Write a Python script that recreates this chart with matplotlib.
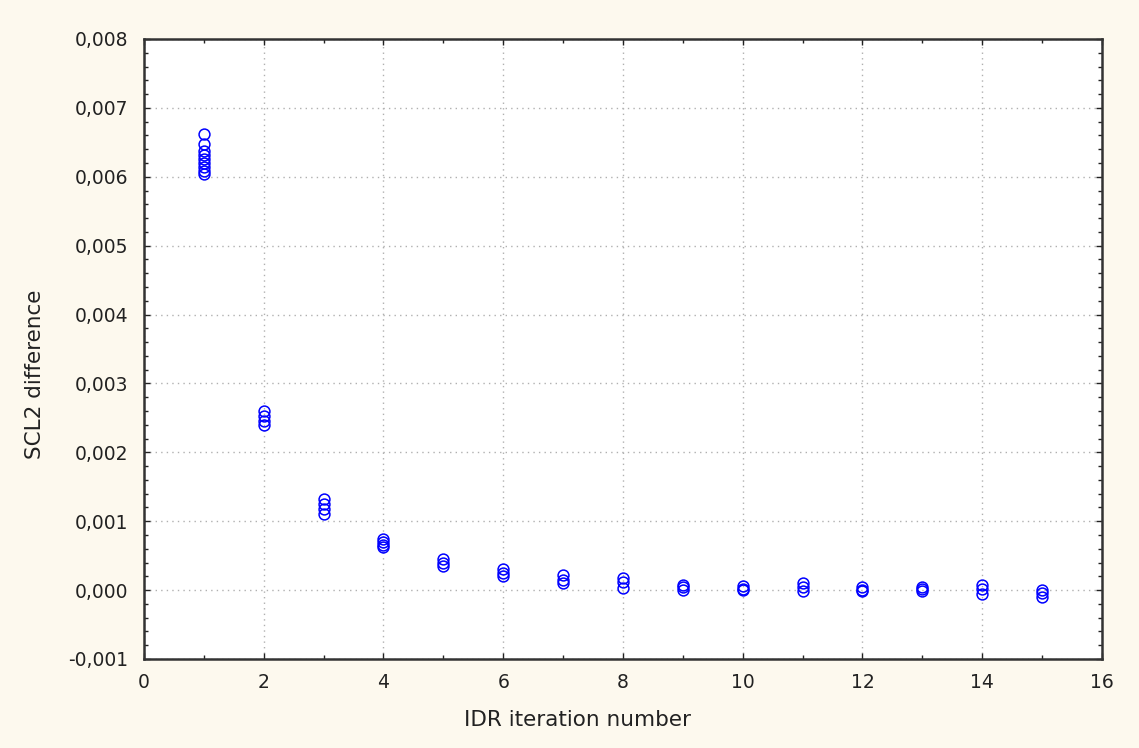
import matplotlib
matplotlib.use("Agg")
import matplotlib.pyplot as plt
from matplotlib.ticker import FuncFormatter, MultipleLocator

iterations = [1, 2, 3, 4, 5, 6, 7, 8, 9, 10, 11, 12, 13, 14, 15]
differences = [
    [0.00662, 0.00648, 0.00638, 0.00632, 0.00626, 0.00620, 0.00614, 0.00608, 0.00604],
    [0.00260, 0.00252, 0.00245, 0.00240],
    [0.00132, 0.00125, 0.00118, 0.00110],
    [0.00074, 0.00070, 0.00066, 0.00062],
    [0.00045, 0.00040, 0.00035],
    [0.00030, 0.00025, 0.00020],
    [0.00022, 0.00015, 0.00010],
    [0.00018, 0.00012, 0.00003],
    [0.00008, 0.00004, 0.00000],
    [0.00006, 0.00002, 0.00000],
    [0.00010, 0.00005, -0.00002],
    [0.00004, 0.00000, -0.00002],
    [0.00004, 0.00001, -0.00001],
    [0.00007, 0.00002, -0.00006],
    [0.00000, -0.00004, -0.00010],
]
x_ticks = [0, 2, 4, 6, 8, 10, 12, 14, 16]
y_ticks = [-0.001, 0.000, 0.001, 0.002, 0.003, 0.004, 0.005, 0.006, 0.007, 0.008]

plt.rcParams['font.family'] = ['DejaVu Sans']

fig = plt.figure(figsize=(11.39, 7.48), dpi=100, facecolor='#FDF9EE')
ax = fig.add_axes([0.1264, 0.119, 0.8411, 0.8289])
ax.set_facecolor('white')

for it, vals in zip(iterations, differences):
    ax.plot([it] * len(vals), vals, linestyle='none', marker='o', markersize=7.8,
            markerfacecolor='none', markeredgecolor='#0000FF', markeredgewidth=1.1)

ax.set_xlim(0, 16)
ax.set_ylim(-0.001, 0.008)
ax.set_xticks(x_ticks)
ax.set_yticks(y_ticks)
ax.xaxis.set_minor_locator(MultipleLocator(1))
ax.yaxis.set_minor_locator(MultipleLocator(0.0002))
ax.xaxis.set_major_formatter(FuncFormatter(lambda v, p: f"{v:.0f}"))
ax.yaxis.set_major_formatter(FuncFormatter(lambda v, p: f"{v:.3f}".replace('.', ',').replace('-0,000', '0,000')))

ax.grid(True, which='major', linestyle=(0, (1, 3)), color='#B0B0B0', linewidth=1.0)
ax.tick_params(which='both', direction='in', top=True, right=True, labelsize=13.5, colors='#222222')
ax.tick_params(which='major', length=4, width=1)
ax.tick_params(which='minor', length=3, width=1)
ax.tick_params(axis='x', pad=10)
ax.tick_params(axis='y', pad=11)
for s in ax.spines.values():
    s.set_color('#333333')
    s.set_linewidth(1.8)

fig.text(0.507, 0.038, 'IDR iteration number', fontsize=15.5, color='#222222', ha='center', va='center')
fig.text(0.031, 0.5, 'SCL2 difference', fontsize=15.5, color='#222222', ha='center', va='center', rotation=90)

fig.savefig('out.png', dpi=100, facecolor=fig.get_facecolor())
